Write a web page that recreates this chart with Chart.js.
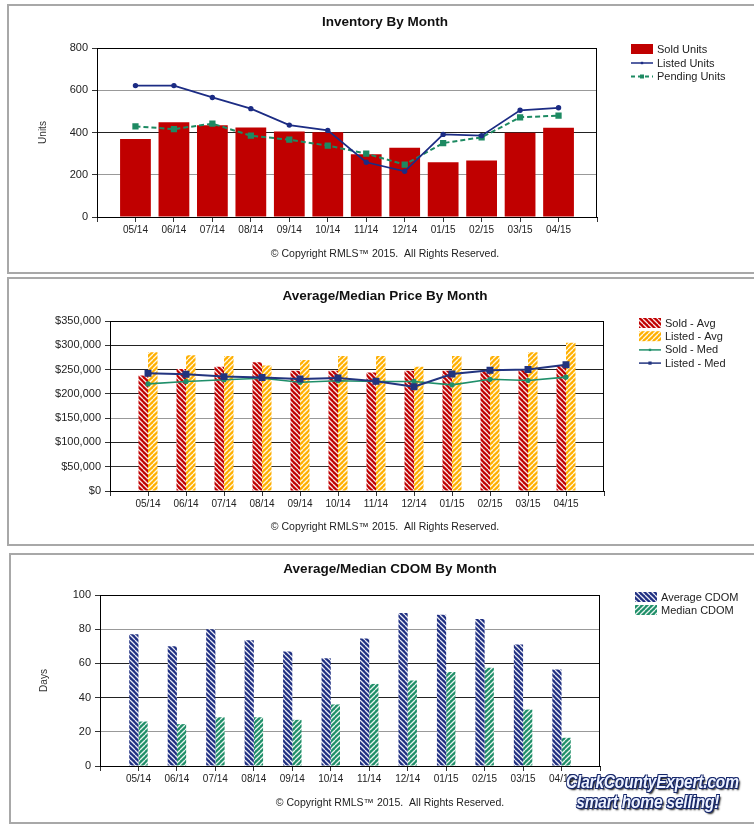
<!DOCTYPE html>
<html>
<head>
<meta charset="utf-8">
<script src="https://cdn.jsdelivr.net/npm/chart.js@4.4.1/dist/chart.umd.min.js"></script>
<style>
  body { margin: 0; background: #fff; width: 754px; height: 824px; overflow: hidden; position: relative; font-family: "Liberation Sans", Arial, sans-serif; }
  .panel { position: absolute; border: 2px solid #a8a8a8; box-sizing: border-box; }
  canvas { position: absolute; }
  .logo { position: absolute; left: 566px; top: 772px; font: italic bold 18px "Liberation Sans", Arial, sans-serif; line-height: 20px; color: #eef3ff; letter-spacing: -0.2px; white-space: nowrap;
          transform: scaleX(0.86); transform-origin: left top;
          text-shadow: 1px 1px 0 #15266a, -1px -1px 0 #15266a, 1px -1px 0 #15266a, -1px 1px 0 #15266a, 2px 2px 2px #000; }
</style>
</head>
<body>
<div class="panel" style="left:7px;top:4px;width:760px;height:270px"></div>
<div class="panel" style="left:7px;top:277px;width:760px;height:269px"></div>
<div class="panel" style="left:9px;top:553px;width:760px;height:271px"></div>

<canvas id="inventory" width="742" height="266" style="left:8px;top:6px"></canvas>
<canvas id="price" width="742" height="266" style="left:8px;top:279px"></canvas>
<canvas id="cdom" width="740" height="267" style="left:10px;top:555px"></canvas>

<div class="logo"><div>ClarkCountyExpert.com</div><div style="margin-left:12px">smart home selling!</div></div>

<script>
const months = ['05/14', '06/14', '07/14', '08/14', '09/14', '10/14', '11/14', '12/14', '01/15', '02/15', '03/15', '04/15'];

// Inventory
const soldUnits    = [369, 448, 434, 424, 405, 401, 297, 328, 259, 268, 399, 423];
const listedUnits  = [622, 622, 566, 513, 435, 410, 259, 216, 391, 385, 505, 517];
const pendingUnits = [429, 416, 442, 385, 366, 338, 300, 248, 350, 377, 472, 480];

// Prices
const soldAvg   = [238000, 251000, 256000, 265000, 247500, 247500, 244000, 247500, 247500, 247500, 249000, 257500];
const listedAvg = [285500, 279500, 278000, 258500, 269500, 278000, 278000, 256000, 278000, 278000, 285500, 305000];
const soldMed   = [220500, 225500, 229000, 232000, 224000, 227000, 225500, 225500, 218500, 230000, 227500, 234500];
const listedMed = [242500, 240500, 235500, 233500, 230500, 232500, 226000, 214500, 241000, 248500, 250000, 260000];

// CDOM
const avgCdom = [77, 70, 80, 73.5, 67, 63, 74.5, 89.5, 88.5, 86, 71, 56.5];
const medCdom = [26, 24.5, 28.5, 28.5, 27, 36, 48, 50, 55, 57.5, 33, 16.5];

const copyright = '\u00A9 Copyright RMLS\u2122 2015.  All Rights Reserved.';

// one empty slot each side so the months sit one step in from the plot edges
const pad = arr => [null, ...arr, null];
const xLabels = ['', ...months, ''];

function hatch(bg, dir) {
  const s = 5, c = document.createElement('canvas');
  c.width = c.height = s;
  const g = c.getContext('2d');
  g.fillStyle = bg;
  g.fillRect(0, 0, s, s);
  g.strokeStyle = 'rgba(255,255,255,0.9)';
  g.lineWidth = 1.3;
  g.beginPath();
  for (const k of [-s, 0, s, 2 * s]) {
    if (dir === 'back') { g.moveTo(k, 0); g.lineTo(k + s, s); }
    else { g.moveTo(k, 0); g.lineTo(k - s, s); }
  }
  g.stroke();
  return g.createPattern(c, 'repeat');
}

const redHatch   = hatch('#c00000', 'back');
const goldHatch  = hatch('#ffb000', 'fwd');
const navyHatch  = hatch('#1f2f82', 'back');
const greenHatch = hatch('#1f8f68', 'fwd');

const FONT = '"Liberation Sans", Arial, sans-serif';

// title, copyright line, legend and the plot box's right edge
function decor(o) {
  return {
    id: 'panelDecor',
    afterDraw(chart) {
      const { ctx, chartArea: a } = chart;
      ctx.save();
      ctx.strokeStyle = '#000';
      ctx.lineWidth = 1;
      ctx.beginPath();
      const rx = Math.round(a.right) - 0.5;
      ctx.moveTo(rx, a.top);
      ctx.lineTo(rx, a.bottom);
      ctx.stroke();

      ctx.fillStyle = '#111';
      ctx.textAlign = 'center';
      ctx.textBaseline = 'middle';
      ctx.font = 'bold 13.5px ' + FONT;
      ctx.fillText(o.title, o.cx, o.titleY);
      ctx.font = '10.5px ' + FONT;
      ctx.fillStyle = '#222';
      ctx.fillText(copyright, o.cx, o.copyY);

      ctx.textAlign = 'left';
      ctx.font = '11px ' + FONT;
      o.legend.forEach((it, i) => {
        const y = o.legY + i * o.legStep;
        const x = o.legX;
        if (it.swatch) {
          ctx.fillStyle = it.swatch;
          ctx.fillRect(x, y - 5, 22, 10);
        } else {
          ctx.strokeStyle = it.stroke;
          ctx.lineWidth = it.width;
          ctx.setLineDash(it.dash || []);
          ctx.beginPath();
          ctx.moveTo(x, y + 0.5);
          ctx.lineTo(x + 22, y + 0.5);
          ctx.stroke();
          ctx.setLineDash([]);
          ctx.fillStyle = it.stroke;
          const m = it.mark;
          ctx.fillRect(x + 11 - m, y + 0.5 - m, 2 * m, 2 * m);
        }
        ctx.fillStyle = '#222';
        ctx.fillText(it.label, x + 26, y + 1);
      });
      ctx.restore();
    }
  };
}

function yAxis(max, step, width, shades, fmt, title, titlePad) {
  return {
    min: 0, max: max,
    afterFit: s => { s.width = width; },
    ticks: { stepSize: step, padding: 4, color: '#222', font: { family: FONT, size: 11 }, callback: fmt },
    grid: { color: c => shades[c.index], tickColor: '#333', tickLength: 5, lineWidth: 1 },
    border: { color: '#000' },
    title: title
      ? { display: true, text: title, color: '#333', font: { family: FONT, size: 10 }, padding: { top: titlePad, bottom: 0 } }
      : { display: false }
  };
}

const xAxis = {
  offset: false,
  afterFit: s => { s.height = 25; },
  ticks: { padding: 2, color: '#222', font: { family: FONT, size: 10 }, maxRotation: 0, autoSkip: false },
  grid: { offset: false, drawOnChartArea: false, tickLength: 5, tickColor: '#333' },
  border: { color: '#000' }
};

const quiet = { legend: { display: false }, tooltip: { enabled: false } };

// ---- Inventory By Month ----
new Chart(document.getElementById('inventory'), {
  data: {
    labels: xLabels,
    datasets: [
      { type: 'bar', label: 'Sold Units', data: pad(soldUnits), backgroundColor: '#c00000', order: 2,
        categoryPercentage: 0.8, barPercentage: 1 },
      { type: 'line', label: 'Listed Units', data: pad(listedUnits), borderColor: '#1c2c84', backgroundColor: '#1c2c84',
        borderWidth: 1.8, pointRadius: 1.8, pointStyle: 'circle', tension: 0, order: 0 },
      { type: 'line', label: 'Pending Units', data: pad(pendingUnits), borderColor: '#1d8a62', backgroundColor: '#1d8a62',
        borderWidth: 2, borderDash: [5, 3], pointRadius: 3, pointStyle: 'rect', tension: 0, order: 1 }
    ]
  },
  options: {
    responsive: false, animation: false, events: [],
    layout: { padding: { left: 19, right: 153, top: 42, bottom: 30 } },
    scales: {
      x: xAxis,
      y: yAxis(800, 200, 70, ['#000', '#999', '#222', '#999', '#000'], v => v, 'Units', 10)
    },
    plugins: quiet
  },
  plugins: [decor({
    title: 'Inventory By Month', cx: 377, titleY: 16, copyY: 248,
    legX: 623, legY: 43, legStep: 13.5,
    legend: [
      { label: 'Sold Units', swatch: '#c00000' },
      { label: 'Listed Units', stroke: '#1c2c84', width: 1.5, mark: 1.2 },
      { label: 'Pending Units', stroke: '#1d8a62', width: 2, dash: [4, 3], mark: 2 }
    ]
  })]
});

// ---- Average/Median Price By Month ----
new Chart(document.getElementById('price'), {
  data: {
    labels: xLabels,
    datasets: [
      { type: 'bar', label: 'Sold - Avg', data: pad(soldAvg), backgroundColor: redHatch, order: 2,
        categoryPercentage: 0.5, barPercentage: 1 },
      { type: 'bar', label: 'Listed - Avg', data: pad(listedAvg), backgroundColor: goldHatch, order: 3,
        categoryPercentage: 0.5, barPercentage: 1 },
      { type: 'line', label: 'Sold - Med', data: pad(soldMed), borderColor: '#1f8f6a', backgroundColor: '#1f8f6a',
        borderWidth: 1.6, pointRadius: 1.8, pointStyle: 'circle', tension: 0, order: 1 },
      { type: 'line', label: 'Listed - Med', data: pad(listedMed), borderColor: '#22347f', backgroundColor: '#22347f',
        borderWidth: 2, pointRadius: 3.5, pointStyle: 'rect', tension: 0, order: 0 }
    ]
  },
  options: {
    responsive: false, animation: false, events: [],
    layout: { padding: { left: 17, right: 146, top: 42, bottom: 29 } },
    scales: {
      x: xAxis,
      y: yAxis(350000, 50000, 85, ['#000', '#333', '#222', '#999', '#222', '#222', '#222', '#000'],
        v => '$' + Number(v).toLocaleString('en-US'), null, 0)
    },
    plugins: quiet
  },
  plugins: [decor({
    title: 'Average/Median Price By Month', cx: 377, titleY: 17, copyY: 248.5,
    legX: 631, legY: 44, legStep: 13.2,
    legend: [
      { label: 'Sold - Avg', swatch: redHatch },
      { label: 'Listed - Avg', swatch: goldHatch },
      { label: 'Sold - Med', stroke: '#1f8f6a', width: 1.5, mark: 1.2 },
      { label: 'Listed - Med', stroke: '#22347f', width: 1.5, mark: 1.6 }
    ]
  })]
});

// ---- Average/Median CDOM By Month ----
new Chart(document.getElementById('cdom'), {
  type: 'bar',
  data: {
    labels: xLabels,
    datasets: [
      { label: 'Average CDOM', data: pad(avgCdom), backgroundColor: navyHatch, categoryPercentage: 0.48, barPercentage: 1 },
      { label: 'Median CDOM', data: pad(medCdom), backgroundColor: greenHatch, categoryPercentage: 0.48, barPercentage: 1 }
    ]
  },
  options: {
    responsive: false, animation: false, events: [],
    layout: { padding: { left: 20, right: 150, top: 40, bottom: 31 } },
    scales: {
      x: xAxis,
      y: yAxis(100, 20, 70, ['#000', '#999', '#222', '#222', '#999', '#000'], v => v, 'Days', 8)
    },
    plugins: quiet
  },
  plugins: [decor({
    title: 'Average/Median CDOM By Month', cx: 380, titleY: 14, copyY: 248,
    legX: 625, legY: 42, legStep: 13,
    legend: [
      { label: 'Average CDOM', swatch: navyHatch },
      { label: 'Median CDOM', swatch: greenHatch }
    ]
  })]
});
</script>
</body>
</html>
